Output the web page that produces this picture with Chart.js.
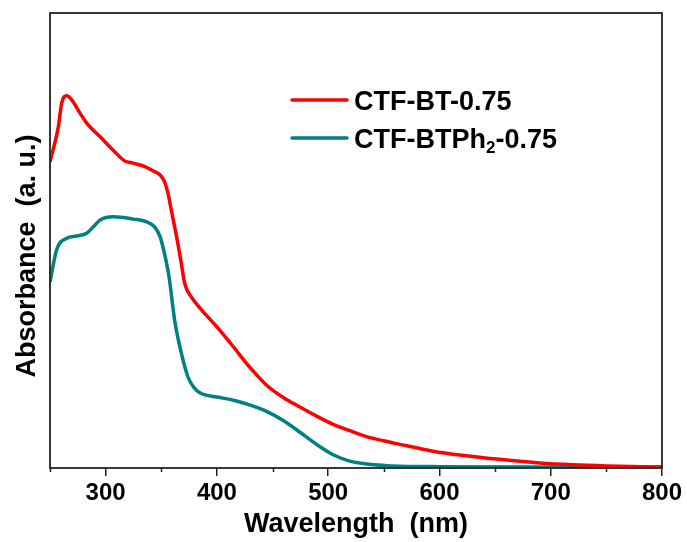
<!DOCTYPE html>
<html>
<head>
<meta charset="utf-8">
<script src="https://cdn.jsdelivr.net/npm/chart.js@4"></script>
<style>
  html, body { margin: 0; padding: 0; background: #fff; }
  #wrap { width: 687px; height: 542px; }
</style>
</head>
<body>
<div id="wrap"><canvas id="uvChart" width="687" height="542"></canvas></div>
<script>
// UV-vis absorbance, values (arbitrary units, 0-100 of the frame)
const btWavelength = [250, 257.5, 260.5, 265, 269.5, 277, 283, 295, 306.6, 317, 324.6, 333.6, 342.8, 349, 353, 356, 359, 363.8, 368, 371, 377, 385, 400, 414.6, 430, 444.7, 459.6, 474.6, 489.6, 504.5, 519.5, 534.5, 549.5, 564.5, 594, 624, 654, 690, 720, 750, 800];
const btAbs = [67.3, 75, 80.2, 81.8, 80.9, 78, 75.8, 72.8, 69.9, 67.5, 67, 66.4, 65.3, 64.4, 62.9, 60.4, 56.7, 50.8, 45, 40.6, 37.6, 35.1, 31, 26.7, 22, 18.2, 15.5, 13.4, 11.4, 9.6, 8.2, 6.9, 6.0, 5.2, 3.7, 2.7, 1.9, 1.1, 0.7, 0.45, 0.2];

const btph2Wavelength = [250, 256, 265, 274, 283, 289, 295, 307, 325, 337, 344, 349, 353, 357, 362, 368, 374, 379, 385, 400, 415, 430, 445, 460, 475, 490, 504.5, 519.5, 534.5, 564.5, 600, 700, 800];
const btph2Abs = [40.9, 48, 50.5, 51, 51.6, 53, 54.5, 55.2, 54.7, 54.1, 53, 50.8, 47, 42, 32.5, 25.3, 20, 17.8, 16.5, 15.6, 14.9, 13.8, 12.4, 10.4, 7.8, 5.1, 2.9, 1.5, 0.9, 0.4, 0.3, 0.2, 0.15];

const majorTicks = [300, 400, 500, 600, 700, 800];
const minorTicks = [250, 350, 450, 550, 650, 750];
const seriesNames = ['CTF-BT-0.75', 'CTF-BTPh', '2', '-0.75'];
const seriesColors = ['#ff0000', '#008080'];
const yTitle = 'Absorbance  (a. u.)';

const toPoints = (xs, ys) => xs.map((x, i) => ({ x, y: ys[i] }));
const FONT = '"Liberation Sans", Arial, sans-serif';

// 外框、次刻度、圖例、Y 軸標題
const framePlugin = {
  id: 'frame',
  afterDraw(chart) {
    const { ctx, chartArea: a, scales } = chart;
    ctx.save();
    ctx.strokeStyle = '#222';
    ctx.lineWidth = 1.8;
    ctx.strokeRect(a.left, a.top, a.right - a.left, a.bottom - a.top);
    // minor ticks
    ctx.lineWidth = 1.5;
    ctx.beginPath();
    minorTicks.forEach(v => {
      const px = Math.round(scales.x.getPixelForValue(v)) + 0.5;
      ctx.moveTo(px, a.bottom);
      ctx.lineTo(px, a.bottom + 4);
    });
    ctx.stroke();
    // legend
    const lx0 = 292, lx1 = 347, tx = 354;
    const rows = [100, 138];
    ctx.lineWidth = 3.5;
    ctx.lineCap = 'round';
    rows.forEach((y, i) => {
      ctx.strokeStyle = seriesColors[i];
      ctx.beginPath();
      ctx.moveTo(lx0, y);
      ctx.lineTo(lx1, y);
      ctx.stroke();
    });
    ctx.fillStyle = '#000';
    ctx.textBaseline = 'alphabetic';
    ctx.font = 'bold 27px ' + FONT;
    ctx.fillText(seriesNames[0], tx, rows[0] + 10);
    let x = tx;
    ctx.fillText(seriesNames[1], x, rows[1] + 10);
    x += ctx.measureText(seriesNames[1]).width;
    ctx.font = 'bold 17px ' + FONT;
    ctx.fillText(seriesNames[2], x, rows[1] + 15);
    x += ctx.measureText(seriesNames[2]).width;
    ctx.font = 'bold 27px ' + FONT;
    ctx.fillText(seriesNames[3], x, rows[1] + 10);
    // y title
    ctx.translate(35, 256);
    ctx.rotate(-Math.PI / 2);
    ctx.textAlign = 'center';
    ctx.font = 'bold 27px ' + FONT;
    ctx.fillText(yTitle, 0, 0);
    ctx.restore();
  }
};

new Chart(document.getElementById('uvChart'), {
  type: 'line',
  data: {
    datasets: [
      {
        label: 'CTF-BT-0.75',
        data: toPoints(btWavelength, btAbs),
        borderColor: seriesColors[0],
        borderWidth: 3.5,
        pointRadius: 0,
        cubicInterpolationMode: 'monotone'
      },
      {
        label: 'CTF-BTPh2-0.75',
        data: toPoints(btph2Wavelength, btph2Abs),
        borderColor: seriesColors[1],
        borderWidth: 3.5,
        pointRadius: 0,
        cubicInterpolationMode: 'monotone'
      }
    ]
  },
  options: {
    responsive: false,
    animation: false,
    layout: { padding: { left: 0, top: 13, right: 25, bottom: 0 } },
    plugins: { legend: { display: false }, tooltip: { enabled: false } },
    scales: {
      x: {
        type: 'linear',
        min: 250,
        max: 800,
        afterBuildTicks: s => { s.ticks = majorTicks.map(v => ({ value: v })); },
        afterFit: s => { s.height = 74; },
        grid: { drawOnChartArea: false, drawTicks: true, tickLength: 8, color: '#222', lineWidth: 1.5 },
        border: { display: false },
        ticks: { color: '#000', font: { family: FONT, size: 24, weight: 'bold' }, padding: 3, maxRotation: 0 },
        title: {
          display: true,
          text: 'Wavelength  (nm)',
          color: '#000',
          font: { family: FONT, size: 27, weight: 'bold' },
          padding: { top: 0, bottom: 1 }
        }
      },
      y: {
        min: 0,
        max: 100,
        afterFit: s => { s.width = 50; },
        grid: { display: false },
        border: { display: false },
        ticks: { display: false },
        title: { display: false }
      }
    }
  },
  plugins: [framePlugin]
});
</script>
</body>
</html>
